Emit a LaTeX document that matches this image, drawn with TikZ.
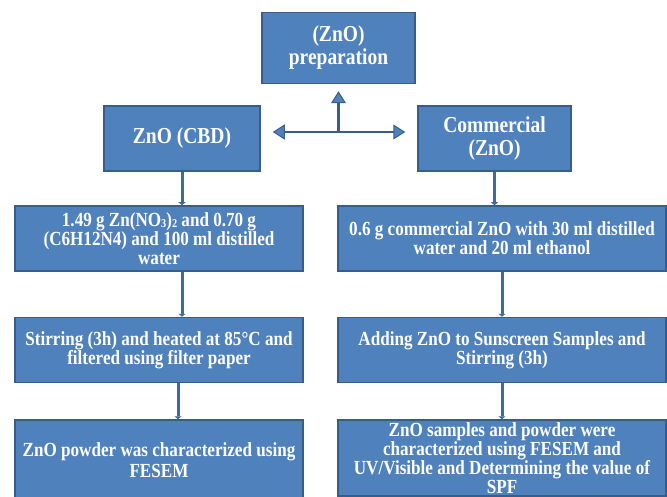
\documentclass[tikz,border=0pt]{standalone}
\usepackage{fontspec}
\setmainfont{Liberation Serif}[FakeStretch=0.855]
\usepackage{xcolor}
\usetikzlibrary{positioning, arrows.meta}
\definecolor{boxblue}{HTML}{4F81BD}
\definecolor{edgeblue}{HTML}{385D8A}
\definecolor{linkblue}{HTML}{3E6A9E}
\newcommand{\lowdigit}[1]{\raisebox{-0.1ex}{\fontsize{12}{12}\selectfont #1}}

\begin{document}
\begin{tikzpicture}[x=1pt, y=-1pt, >=Stealth,
      head/.style={draw=edgeblue, line width=1.5pt, fill=boxblue, text=white, align=center, inner sep=0pt,
                   font=\fontsize{22.8}{23}\selectfont\bfseries},
      stage/.style={draw=edgeblue, line width=1.5pt, fill=boxblue, text=white, align=center, inner sep=0pt,
                    minimum width=288pt, minimum height=65pt, font=\fontsize{20}{19}\selectfont\bfseries},
      link/.style={draw=linkblue, line width=3pt, -{Triangle[length=3pt, width=7pt]}},
      split/.style={draw=edgeblue, line width=2.5pt, >={Triangle[length=12pt, width=15pt, fill=boxblue, line width=1pt]}}]

    \useasboundingbox (0,0) rectangle (667,497);

    % heads
    \node[head, minimum width=153pt, minimum height=71pt] (prep) at (338.5,48) {(ZnO)\\preparation};
    \node[head, minimum width=156pt, minimum height=65pt] (cbd) at (182,138.5) {ZnO (CBD)};
    \node[head, minimum width=153pt, minimum height=65pt] (comm) at (494.5,138.5) {Commercial\\(ZnO)};

    % CBD route
    \node[stage] (mixcbd) at (159,238.5) {1.49 g Zn(NO\lowdigit{3})\lowdigit{2}  and 0.70 g\\(C6H12N4) and 100 ml distilled\\water};
    \node[stage, below=45pt of mixcbd] (stircbd) {Stirring (3h) and heated at 85°C and\\filtered using filter paper};
    \node[stage, below=36pt of stircbd, minimum height=80pt, font=\fontsize{20}{21}\selectfont\bfseries] (charcbd) {ZnO powder was characterized using\\FESEM};

    % commercial route
    \node[stage, minimum width=328pt] (mixcom) at (502,238.5) {0.6 g commercial ZnO with 30 ml distilled\\water and  20 ml ethanol};
    \node[stage, minimum width=328pt, below=45pt of mixcom] (stircom) {Adding ZnO to Sunscreen Samples and\\Stirring (3h)};
    \node[stage, minimum width=328pt, below=36pt of stircom, minimum height=76pt, font=\fontsize{20}{17.5}\selectfont\bfseries] (charcom) {ZnO samples and powder were\\characterized using FESEM and\\UV/Visible and Determining the value of\\SPF};

    % split arrows
    \coordinate (hub) at (prep.south |- 0,132);
    \draw[split, ->] (hub) -- ([yshift=-7pt]prep.south);
    \draw[split, <->, shorten <=12pt, shorten >=12pt] (hub -| cbd.east) -- (hub -| comm.west);

    % links
    \draw[link] (cbd.south) -- (cbd.south |- mixcbd.north);
    \draw[link] (mixcbd.south -| cbd.south) -- (stircbd.north -| cbd.south);
    \draw[link] ([xshift=-4pt]stircbd.south -| cbd.south) -- ([xshift=-4pt]charcbd.north -| cbd.south);
    \draw[link] (comm.south) -- (comm.south |- mixcom.north);
    \draw[link] (mixcom.south) -- (stircom.north);
    \draw[link] (stircom.south) -- (charcom.north);
  \end{tikzpicture}
\end{document}
